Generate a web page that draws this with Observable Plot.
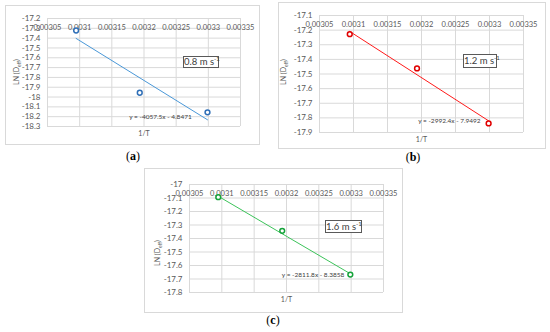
<!DOCTYPE html>
<html><head><meta charset="utf-8">
<script src="https://cdn.jsdelivr.net/npm/d3@7"></script>
<script src="https://cdn.jsdelivr.net/npm/@observablehq/plot@0.6"></script>
<style>
body{margin:0;background:#fff;}
#root{position:relative;width:550px;height:332px;background:#fff;font-family:Lato,"Liberation Sans",sans-serif;overflow:hidden;}
.panel{position:absolute;outline:1px solid #d9d9d9;outline-offset:-1px;background:#fff;}
.panel svg{position:absolute;left:0;top:0;}
.ylab{position:absolute;font-size:7px;color:#595959;white-space:nowrap;transform:translate(-50%,-50%) rotate(-90deg);}
.ylab sub{font-size:5px;}
.speed{position:absolute;border:1px solid #595959;background:#fff;box-sizing:border-box;font-size:9.5px;color:#404040;text-align:center;white-space:nowrap;}
.speed sup{font-size:6px;vertical-align:4px;line-height:0;}
.tag{position:absolute;font-family:"Liberation Serif",serif;font-size:12px;color:#000;transform:translate(-50%,-50%);}
</style>
</head><body><div id="root"></div>
<script>
// ---- data ----
const invT = [0.0030945, 0.0031934, 0.0032987];
const lnA = [-17.322, -17.956, -18.156];
const lnB = [-17.228, -17.462, -17.838];
const lnC = [-17.094, -17.343, -17.667];
const slopes = [-4057.5, -2992.4, -2811.8];
const intercepts = [-4.8471, -7.9492, -8.3858];
const speeds = ["0.8", "1.2", "1.6"];
const panelTags = ["a", "b", "c"];
const xTicks = [0.00305, 0.0031, 0.00315, 0.0032, 0.00325, 0.0033, 0.00335];
const xTickLabels = ["0.00305", "0.0031", "0.00315", "0.0032", "0.00325", "0.0033", "0.00335"];
const yTicksA = [-17.2, -17.3, -17.4, -17.5, -17.6, -17.7, -17.8, -17.9, -18, -18.1, -18.2, -18.3];
const yTicksB = [-17.1, -17.2, -17.3, -17.4, -17.5, -17.6, -17.7, -17.8, -17.9];
const yTicksC = [-17, -17.1, -17.2, -17.3, -17.4, -17.5, -17.6, -17.7, -17.8];
const eqLabels = ["y = -4057.5x - 4.8471", "y = -2992.4x - 7.9492", "y = -2811.8x - 8.3858"];
const eqX = [0.0032256, 0.003241, 0.003241];
const eqY = [-18.207, -17.819, -17.669];

// ---- layout / style ----
const panels = [
  {box:[5,5,255,140], m:[13,20,19,42], yTicks:yTicksA, ys:lnA, line:"#4a98d8", dotc:"#2f6fb7",
   ylab:[12,67], speed:[178,51,36,12], tag:[133,156]},
  {box:[278,2,268,147], m:[13,23,17,41], yTicks:yTicksB, ys:lnB, line:"#ff1a1a", dotc:"#e00000",
   ylab:[6,70], speed:[185,52,34,14], tag:[413,157]},
  {box:[144,168,259,145], m:[16,20,21,45], yTicks:yTicksC, ys:lnC, line:"#3cc35a", dotc:"#15a33a",
   ylab:[14,85], speed:[181,52,37,13], tag:[273,320]}
];

const root = document.getElementById("root");
panels.forEach((p, i) => {
  const [bx, by, bw, bh] = p.box;
  const [mt, mr, mb, ml] = p.m;
  const pts = invT.map((x, k) => ({x, y: p.ys[k]}));
  const xr = d3.extent(invT);
  const fit = xr.map(x => ({x, y: slopes[i] * x + intercepts[i]}));
  const ticks = xTicks.map((x, k) => ({x, label: xTickLabels[k]}));
  const chart = Plot.plot({
    width: bw, height: bh,
    marginTop: mt, marginRight: mr, marginBottom: mb, marginLeft: ml,
    style: {fontFamily: "Lato, 'Liberation Sans', sans-serif", fontSize: "7.5px", background: "transparent"},
    x: {domain: [xTicks[0], xTicks[xTicks.length - 1]], axis: null},
    y: {domain: d3.extent(p.yTicks), axis: null},
    marks: [
      Plot.gridX(xTicks, {stroke: "#d9d9d9", strokeOpacity: 1}),
      Plot.gridY(p.yTicks, {stroke: "#d9d9d9", strokeOpacity: 1}),
      Plot.axisY(p.yTicks, {tickSize: 0, tickPadding: 7, tickFormat: d => String(d), fill: "#595959", label: null, fontSize: 8}),
      Plot.text(ticks, {x: "x", text: "label", frameAnchor: "top", dy: 9.5, fill: "#595959", fontSize: 7.5, lineAnchor: "middle"}),
      Plot.text(["1/T"], {frameAnchor: "bottom", dy: 7, fill: "#595959", fontSize: 7, lineAnchor: "middle"}),
      Plot.line(fit, {x: "x", y: "y", stroke: p.line, strokeWidth: 1}),
      Plot.dot(pts, {x: "x", y: "y", r: 2.4, stroke: p.dotc, strokeWidth: 1.5, fill: "white"}),
      Plot.text([eqLabels[i]], {x: () => eqX[i], y: () => eqY[i], fill: "#404040", fontSize: 6.5})
    ]
  });
  const div = document.createElement("div");
  div.className = "panel";
  Object.assign(div.style, {left: bx + "px", top: by + "px", width: bw + "px", height: bh + "px"});
  div.appendChild(chart);
  const yl = document.createElement("div");
  yl.className = "ylab";
  yl.innerHTML = "LN (D<sub>eff</sub>)";
  yl.style.left = p.ylab[0] + "px"; yl.style.top = p.ylab[1] + "px";
  div.appendChild(yl);
  const sp = document.createElement("div");
  sp.className = "speed";
  sp.innerHTML = speeds[i] + " m s<sup>-1</sup>";
  Object.assign(sp.style, {left: p.speed[0] + "px", top: p.speed[1] + "px", width: p.speed[2] + "px", height: p.speed[3] + "px", lineHeight: (p.speed[3] - 2) + "px"});
  div.appendChild(sp);
  root.appendChild(div);
  const tg = document.createElement("div");
  tg.className = "tag";
  tg.innerHTML = "(<b>" + panelTags[i] + "</b>)";
  tg.style.left = p.tag[0] + "px"; tg.style.top = p.tag[1] + "px";
  root.appendChild(tg);
});
</script>
</body></html>
